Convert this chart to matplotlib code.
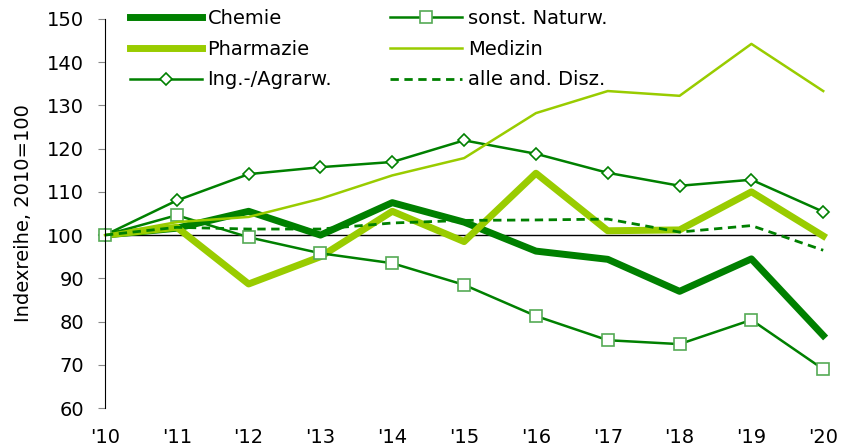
import matplotlib
matplotlib.use("Agg")
from matplotlib import pyplot as plt
import numpy as np

jahre = np.arange(2010, 2021)
jahr_labels = ["'10", "'11", "'12", "'13", "'14", "'15", "'16", "'17", "'18", "'19", "'20"]

chemie = [100, 101.6, 105.5, 100, 107.5, 103, 96.3, 94.4, 87, 94.5, 76.8]
pharmazie = [100, 101.8, 88.7, 95, 105.5, 98.5, 114.3, 101, 101.2, 110, 99.8]
ing_agrar = [100, 108, 114.1, 115.7, 116.9, 121.9, 118.8, 114.4, 111.4, 112.8, 105.4]
naturw = [100, 104.6, 99.5, 95.8, 93.5, 88.5, 81.3, 75.7, 74.8, 80.4, 69]
medizin = [100, 103, 104.2, 108.4, 113.8, 117.8, 128.2, 133.3, 132.2, 144.2, 133.3]
andere = [100, 101.8, 101.4, 101.4, 102.8, 103.4, 103.5, 103.7, 100.7, 102.2, 96.5]

dunkel = "#008000"
hell = "#99cc00"

plt.rcParams['font.family'] = ['DejaVu Sans']
fig = plt.figure(figsize=(8.5, 4.48), dpi=100)
ax = fig.add_axes([0.1235, 0.089, 0.845, 0.869])

ax.axhline(100, color="black", lw=1, zorder=1)

ax.plot(jahre, chemie, color=dunkel, lw=5, label="Chemie", clip_on=False)
ax.plot(jahre, pharmazie, color=hell, lw=5, label="Pharmazie", clip_on=False)
ax.plot(jahre, ing_agrar, color=dunkel, lw=1.8, marker="D", ms=6.5, mfc="white",
        mec=dunkel, mew=1.2, label="Ing.-/Agrarw.", clip_on=False)
ax.plot(jahre, naturw, color=dunkel, lw=1.8, marker="s", ms=9, mfc="white",
        mec="#55aa55", mew=1.2, label="sonst. Naturw.", clip_on=False)
ax.plot(jahre, medizin, color=hell, lw=1.8, label="Medizin", clip_on=False)
ax.plot(jahre, andere, color=dunkel, lw=2, ls=(0, (3, 2)), label="alle and. Disz.", clip_on=False)

ax.set_xlim(2010, 2020)
ax.set_ylim(60, 150)
ax.set_yticks(np.arange(60, 151, 10))
ax.set_xticks(jahre)
ax.set_xticklabels(jahr_labels)
ax.tick_params(axis="y", labelsize=14, length=5, color="#888888", direction="out", pad=10)
ax.tick_params(axis="x", labelsize=14, length=0, pad=14)
for s in ["top", "right", "bottom"]:
    ax.spines[s].set_visible(False)
ax.spines["left"].set_color("black")
ax.set_ylabel("Indexreihe, 2010=100", fontsize=14, labelpad=10)

leg = ax.legend(ncol=2, frameon=False,
                loc="upper left", bbox_to_anchor=(0.01, 1.07), fontsize=14,
                handlelength=3.7, handletextpad=0.3, columnspacing=3.0,
                labelspacing=0.6)

fig.savefig("out.png", dpi=100)
